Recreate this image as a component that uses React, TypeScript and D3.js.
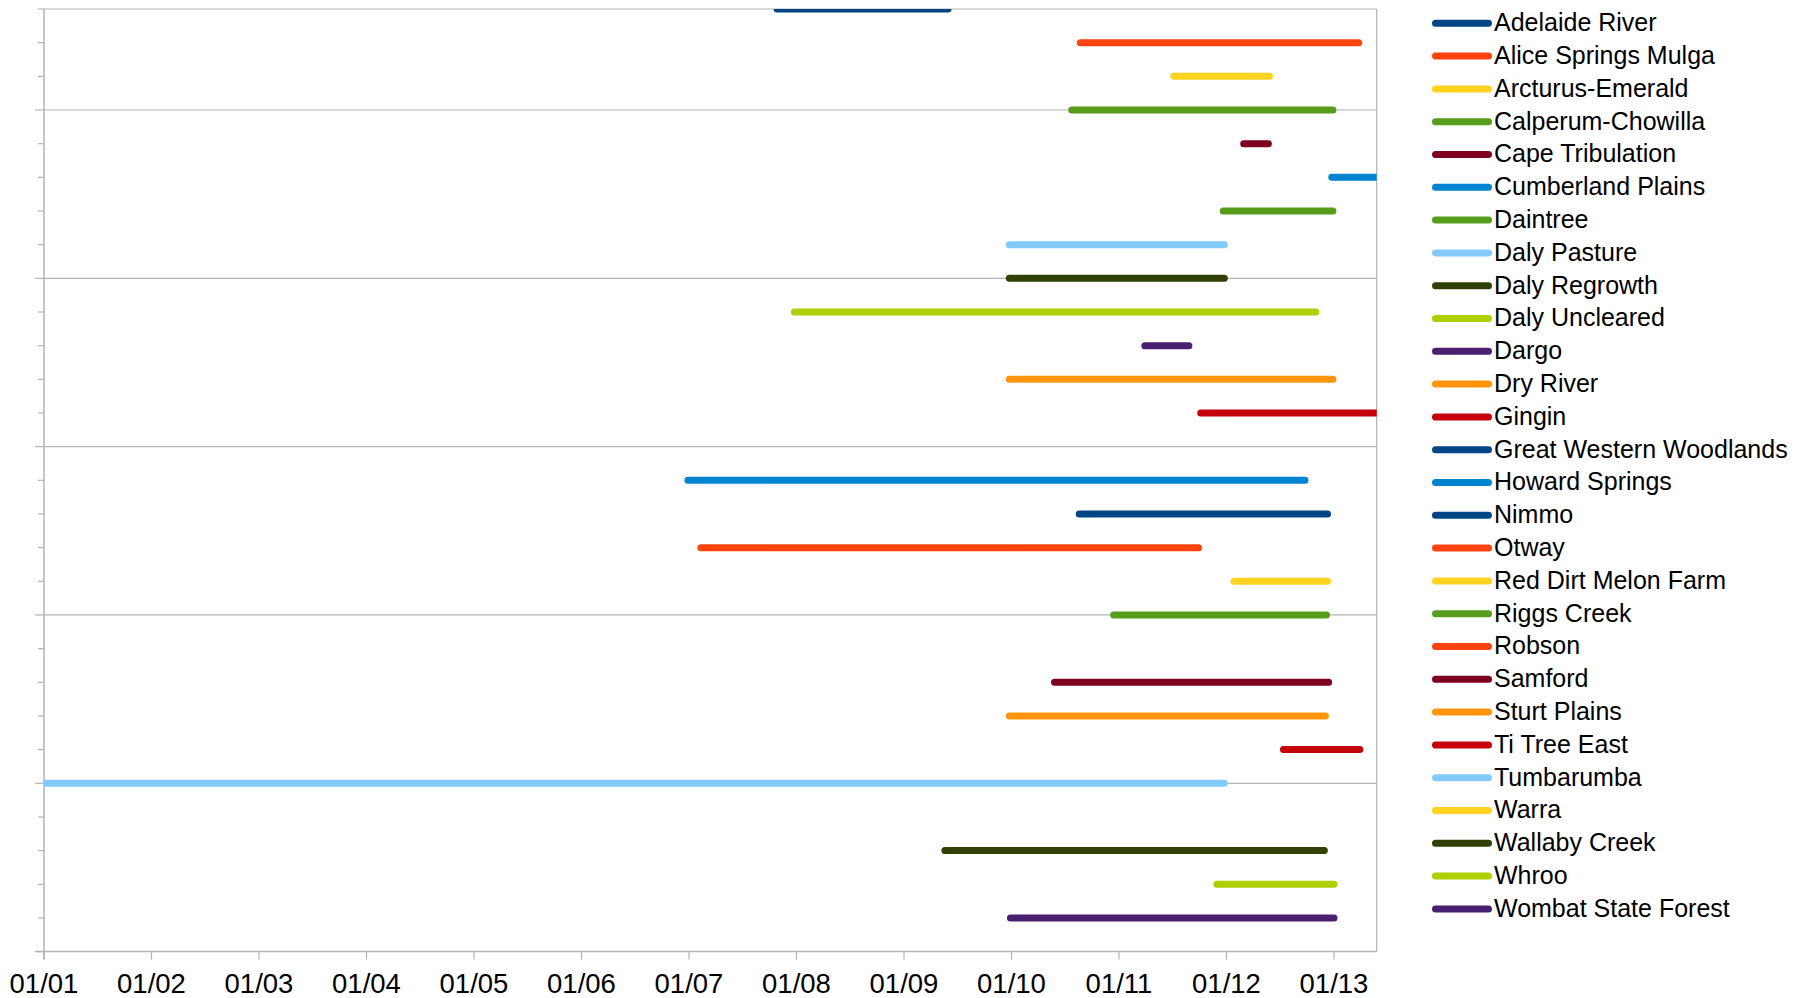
import React from "react";
import * as d3 from "d3";

const sites = [
  "Adelaide River", "Alice Springs Mulga", "Arcturus-Emerald", "Calperum-Chowilla",
  "Cape Tribulation", "Cumberland Plains", "Daintree", "Daly Pasture", "Daly Regrowth",
  "Daly Uncleared", "Dargo", "Dry River", "Gingin", "Great Western Woodlands",
  "Howard Springs", "Nimmo", "Otway", "Red Dirt Melon Farm", "Riggs Creek", "Robson",
  "Samford", "Sturt Plains", "Ti Tree East", "Tumbarumba", "Warra", "Wallaby Creek",
  "Whroo", "Wombat State Forest",
];

// start / end of record, decimal years (NaN = no record shown)
const startYear = [
  2007.82, 2010.64, 2011.51, 2010.56, 2012.16, 2012.98, 2011.97, 2009.98, 2009.98,
  2007.98, 2011.24, 2009.98, 2011.76, NaN, 2006.99, 2010.63, 2007.11, 2012.07, 2010.95,
  NaN, 2010.40, 2009.98, 2012.53, 2000.9, NaN, 2009.38, 2011.91, 2009.99,
];
const endYear = [
  2009.41, 2013.23, 2012.40, 2012.99, 2012.39, 2013.6, 2012.99, 2011.98, 2011.98,
  2012.83, 2011.65, 2012.99, 2013.6, NaN, 2012.73, 2012.94, 2011.74, 2012.94, 2012.93,
  NaN, 2012.95, 2012.92, 2013.24, 2011.98, NaN, 2012.91, 2013.00, 2013.00,
];

const colors = [
  "#004586", "#ff420e", "#ffd320", "#579d1c", "#7e0021", "#0084d1", "#579d1c",
  "#83caff", "#314004", "#aecf00", "#4b1f6f", "#ff950e", "#c5000b", "#004586",
  "#0084d1", "#004586", "#ff420e", "#ffd320", "#579d1c", "#ff420e", "#7e0021",
  "#ff950e", "#c5000b", "#83caff", "#ffd320", "#314004", "#aecf00", "#4b1f6f",
];

const tickYears = [2001, 2002, 2003, 2004, 2005, 2006, 2007, 2008, 2009, 2010, 2011, 2012, 2013];
const tickLabels = ["01/01", "01/02", "01/03", "01/04", "01/05", "01/06", "01/07", "01/08", "01/09", "01/10", "01/11", "01/12", "01/13"];

export default function App() {
  const W = 1810, H = 998;
  const left = 44, right = 1376.7, top = 9, bottom = 951.6;
  const x = d3.scaleLinear().domain([2001, 2013]).range([left, 1334]);
  const xMax = x.invert(right);
  const y = d3.scaleLinear().domain([0, 28]).range([bottom, top]);
  const grey = "#b3b3b3";
  const font = "'Liberation Sans', Arial, sans-serif";
  const n = sites.length;
  const rows = d3.range(n);
  const minorTicks = d3.range(0, 29);
  const majorTicks = [5, 10, 15, 20, 25];
  const legendY = d3.scaleLinear().domain([0, n - 1]).range([23.3, 23.3 + 32.8 * (n - 1)]);
  const line = d3.line<[number, number]>().x((d) => x(d[0])).y((d) => d[1]);

  return (
    <svg width={W} height={H} style={{ position: "absolute", left: 0, top: 0, background: "#fff" }}>
      <defs>
        <clipPath id="plotclip">
          <rect x={left} y={y(28)} width={x(xMax) - left} height={bottom - y(28)} />
        </clipPath>
      </defs>
      <rect x={0} y={0} width={W} height={H} fill="#fff" />
      {/* grid lines */}
      {majorTicks.map((t) => (
        <line key={"g" + t} x1={left} x2={right} y1={y(t)} y2={y(t)} stroke={grey} strokeWidth={1.2} />
      ))}
      {/* plot border */}
      <line x1={left} x2={right} y1={top} y2={top} stroke={grey} strokeWidth={1.2} />
      <line x1={right} x2={right} y1={top} y2={bottom} stroke={grey} strokeWidth={1.2} />
      {/* y ticks */}
      {minorTicks.map((t) => (
        <line key={"yt" + t} x1={majorTicks.includes(t) || t === 0 ? left - 9 : left - 6} x2={left} y1={y(t)} y2={y(t)} stroke={grey} strokeWidth={1.2} />
      ))}
      {/* x ticks */}
      {tickYears.map((t) => (
        <line key={"xt" + t} x1={x(t)} x2={x(t)} y1={bottom} y2={bottom + 8} stroke={grey} strokeWidth={1.2} />
      ))}
      {/* axes */}
      <line x1={left} x2={left} y1={top} y2={bottom + 8} stroke={grey} strokeWidth={1.5} />
      <line x1={left - 9} x2={right} y1={bottom} y2={bottom} stroke={grey} strokeWidth={1.5} />
      {/* bars */}
      <g clipPath="url(#plotclip)">
        {rows.map((i) =>
          isNaN(startYear[i]) ? null : (
            <path
              key={"b" + i}
              d={line([[startYear[i], y(28 - i)], [Math.min(endYear[i], xMax + 0.2), y(28 - i)]]) || ""}
              stroke={colors[i]}
              strokeWidth={7}
              strokeLinecap="round"
              fill="none"
            />
          )
        )}
      </g>
      {/* x labels */}
      {tickYears.map((t, i) => (
        <text key={"xl" + t} x={x(t)} y={993} textAnchor="middle" fontFamily={font} fontSize={27.5} fill="#000">
          {tickLabels[i]}
        </text>
      ))}
      {/* legend */}
      {rows.map((i) => (
        <g key={"l" + i}>
          <line x1={1435.5} x2={1488.5} y1={legendY(i)} y2={legendY(i)} stroke={colors[i]} strokeWidth={7} strokeLinecap="round" />
          <text x={1494} y={legendY(i) + 7.8} fontFamily={font} fontSize={25} fill="#000">
            {sites[i]}
          </text>
        </g>
      ))}
    </svg>
  );
}
